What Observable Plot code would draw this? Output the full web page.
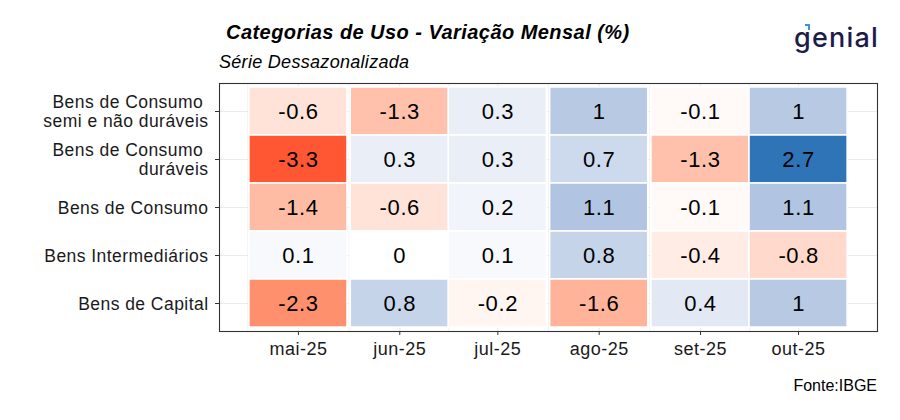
<!DOCTYPE html>
<html><head><meta charset="utf-8">
<script src="https://cdn.jsdelivr.net/npm/d3@7"></script>
<script src="https://cdn.jsdelivr.net/npm/@observablehq/plot@0.6"></script>
<style>
body{margin:0;background:#fff;font-family:"Liberation Sans",Arial,sans-serif;}
#wrap{position:relative;width:900px;height:420px;overflow:hidden;background:#fff;}
.t{position:absolute;white-space:nowrap;color:#000;line-height:1;}
#chart{position:absolute;left:0;top:0;}
.hm g[aria-label="y-axis tick label"] text{letter-spacing:0.45px;}
.hm g[aria-label="x-axis tick label"] text{letter-spacing:0.5px;}
.hm g[aria-label="text"] text{letter-spacing:0.6px;}
</style></head><body>
<div id="wrap">
<div id="chart"></div>
<div class="t" style="left:226px;top:22px;font-size:20px;letter-spacing:0.45px;font-weight:bold;font-style:italic;">Categorias de Uso - Variação Mensal (%)</div>
<div class="t" style="left:219px;top:53px;font-size:18px;letter-spacing:0.3px;font-style:italic;">Série Dessazonalizada</div>
<div class="t" style="right:23px;top:378px;font-size:16px;">Fonte:IBGE</div>
<div class="t" style="left:794px;top:24px;font-family:Inter,'Noto Sans',sans-serif;font-size:27px;font-weight:500;letter-spacing:1.2px;color:#1e1b4b;">genial</div>
<div style="position:absolute;left:805px;top:24px;width:3px;height:4px;border-top:2px solid #3d8fe3;border-right:2px solid #3d8fe3;"></div>
</div>
<script>
// ---- data ----
const months = ["2025-05-01","2025-06-01","2025-07-01","2025-08-01","2025-09-01","2025-10-01"];
const monthLabels = ["mai-25","jun-25","jul-25","ago-25","set-25","out-25"];
const categories = [
  "Bens de Consumo\u00a0\nsemi e não duráveis",
  "Bens de Consumo\u00a0\nduráveis",
  "Bens de Consumo",
  "Bens Intermediários",
  "Bens de Capital"
];
const semiNaoDuraveis = [-0.6, -1.3, 0.3, 1.0, -0.1, 1.0];
const duraveis        = [-3.3,  0.3, 0.3, 0.7, -1.3, 2.7];
const consumo         = [-1.4, -0.6, 0.2, 1.1, -0.1, 1.1];
const intermediarios  = [ 0.1,  0.0, 0.1, 0.8, -0.4, -0.8];
const capital         = [-2.3,  0.8, -0.2, -1.6, 0.4, 1.0];
const series = [semiNaoDuraveis, duraveis, consumo, intermediarios, capital];

// ---- build table ----
const dates = months.map(m => new Date(m + "T00:00:00Z"));
const data = [];
categories.forEach((c, ci) => series[ci].forEach((v, mi) => data.push({cat: c, date: dates[mi], value: v})));

const half = 15; // tile half-width in days (tile width = 30 days)
const lo = d3.utcDay.offset(dates[0], -half), hi = d3.utcDay.offset(dates[dates.length - 1], half);
const pad = (hi - lo) * 0.05;
const xDomain = [new Date(+lo - pad), new Date(+hi + pad)];
const labelOf = new Map(dates.map((d, i) => [+d, monthLabels[i]]));
// minor grid: midpoints between major breaks (plus one on each side)
const minor = [];
for (let i = 0; i < dates.length - 1; i++) minor.push(new Date((+dates[i] + +dates[i + 1]) / 2));
minor.unshift(new Date(+dates[0] - (minor[0] - dates[0])));
minor.push(new Date(+dates[dates.length - 1] + (dates[dates.length - 1] - minor[minor.length - 2])));

const chart = Plot.plot({
  className: "hm",
  width: 900, height: 420,
  marginLeft: 219, marginRight: 23, marginTop: 83, marginBottom: 89,
  style: {fontFamily: '"Liberation Sans", Arial, sans-serif', background: "transparent"},
  x: {type: "utc", domain: xDomain},
  y: {type: "band", domain: categories, padding: 0, insetTop: 3, insetBottom: 4},
  color: {type: "linear", domain: [-3.3, 0, 2.7], range: ["#ff5733", "#ffffff", "#2e74b6"], interpolate: "lab"},
  marks: [
    Plot.gridX(minor, {stroke: "#ebebeb", strokeOpacity: 1, strokeWidth: 0.6}),
    Plot.gridX(dates, {stroke: "#ebebeb", strokeOpacity: 1, strokeWidth: 1.2}),
    Plot.gridY({stroke: "#ebebeb", strokeOpacity: 1, strokeWidth: 1.2}),
    Plot.barX(data, {
      x1: d => d3.utcDay.offset(d.date, -half),
      x2: d => d3.utcDay.offset(d.date, half),
      y: "cat", fill: "value", stroke: "white", strokeWidth: 1.5
    }),
    Plot.text(data, {x: "date", y: "cat", text: d => String(d.value), fontSize: 22, fill: "black"}),
    Plot.frame({stroke: "#333", strokeWidth: 1.1}),
    Plot.axisX(dates, {tickFormat: d => labelOf.get(+d), fontSize: 18, tickSize: 4, tickPadding: 7, stroke: "#333", fill: "#1a1a1a", label: null}),
    Plot.axisY({fontSize: 17.5, tickSize: 4, tickPadding: 7, stroke: "#333", fill: "#1a1a1a", label: null, lineHeight: 1.1})
  ]
});
document.getElementById("chart").appendChild(chart);
</script>
</body></html>
